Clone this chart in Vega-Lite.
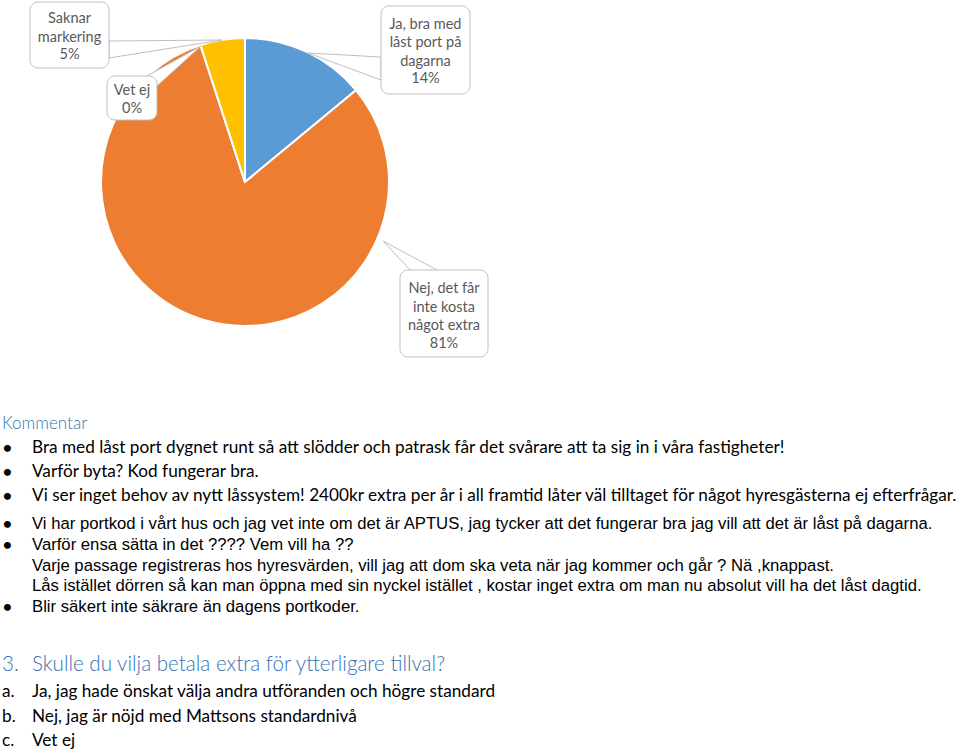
{
  "$schema": "https://vega.github.io/schema/vega-lite/v6.json",
  "width": 960,
  "height": 751,
  "autosize": {"type": "none"},
  "padding": 0,
  "background": "white",
  "config": {"view": {"stroke": null}},
  "datasets": {
    "svar": [
      {"nr": 1, "svar": "Ja, bra med låst port på dagarna", "andel": 0.14, "etikett": ["Ja, bra med", "låst port på", "dagarna"]},
      {"nr": 2, "svar": "Nej, det får inte kosta något extra", "andel": 0.81, "etikett": ["Nej, det får", "inte kosta", "något extra"]},
      {"nr": 3, "svar": "Vet ej", "andel": 0.0, "etikett": ["Vet ej"]},
      {"nr": 4, "svar": "Saknar markering", "andel": 0.05, "etikett": ["Saknar", "markering"]}
    ],
    "dokument": [
      {"rad": 0, "typ": "rubrik", "markor": "", "text": "Kommentar"},
      {"rad": 1, "typ": "c", "markor": "•", "text": "Bra med låst port dygnet runt så att slödder och patrask får det svårare att ta sig in i våra fastigheter!"},
      {"rad": 2, "typ": "c", "markor": "•", "text": "Varför byta? Kod fungerar bra."},
      {"rad": 3, "typ": "c", "markor": "•", "text": "Vi ser inget behov av nytt låssystem! 2400kr extra per år i all framtid låter väl tilltaget för något hyresgästerna ej efterfrågar."},
      {"rad": 4, "typ": "a", "markor": "•", "text": "Vi har portkod i vårt hus och jag vet inte om det är APTUS, jag tycker att det fungerar bra jag vill att det är låst på dagarna."},
      {"rad": 5, "typ": "a", "markor": "•", "text": "Varför ensa sätta in det ???? Vem vill ha ??"},
      {"rad": 6, "typ": "a", "markor": "", "text": "Varje passage registreras hos hyresvärden, vill jag att dom ska veta när jag kommer och går ? Nä ,knappast."},
      {"rad": 7, "typ": "a", "markor": "", "text": "Lås istället dörren så kan man öppna med sin nyckel istället , kostar inget extra om man nu absolut vill ha det låst dagtid."},
      {"rad": 8, "typ": "a", "markor": "•", "text": "Blir säkert inte säkrare än dagens portkoder."},
      {"rad": 9, "typ": "fraga", "markor": "3.", "text": "Skulle du vilja betala extra för ytterligare tillval?"},
      {"rad": 10, "typ": "alt", "markor": "a.", "text": "Ja, jag hade önskat välja andra utföranden och högre standard"},
      {"rad": 11, "typ": "alt", "markor": "b.", "text": "Nej, jag är nöjd med Mattsons standardnivå"},
      {"rad": 12, "typ": "alt", "markor": "c.", "text": "Vet ej"}
    ]
  },
  "resolve": {"scale": {"x": "independent", "y": "independent"}},
  "layer": [
    {
      "data": {"name": "svar"},
      "layer": [
        {
          "mark": {"type": "arc", "outerRadius": 144, "stroke": "white", "strokeWidth": 2},
          "encoding": {
            "theta": {"field": "andel", "type": "quantitative", "stack": true},
            "order": {"field": "nr", "type": "quantitative"},
            "color": {"field": "svar", "type": "nominal", "legend": null,
              "scale": {"domain": ["Ja, bra med låst port på dagarna", "Nej, det får inte kosta något extra", "Vet ej", "Saknar markering"],
                        "range": ["#5B9BD5", "#ED7D31", "#A5A5A5", "#FFC000"]}},
            "x": {"datum": 245, "type": "quantitative", "scale": {"domain": [0, 960], "nice": false, "zero": false}, "axis": null},
            "y": {"datum": 182, "type": "quantitative", "scale": {"domain": [0, 751], "nice": false, "zero": false, "reverse": true}, "axis": null}
          }
        },
        {
          "transform": [{"filter": "datum.nr == 1"}],
          "layer": [
            {"mark": {"type": "point", "shape": "M0,0L73,4L73,27Z", "size": 4, "filled": true, "fill": "white", "stroke": "#BFBFBF", "strokeWidth": 1, "opacity": 1},
             "encoding": {"x": {"datum": 308, "type": "quantitative"}, "y": {"datum": 53, "type": "quantitative"}}},
            {"mark": {"type": "rect", "fill": "white", "stroke": "#BFBFBF", "strokeWidth": 1, "cornerRadius": 8},
             "encoding": {"x": {"datum": 381, "type": "quantitative"}, "x2": {"datum": 470}, "y": {"datum": 6, "type": "quantitative"}, "y2": {"datum": 94}}},
            {"mark": {"type": "text", "align": "center", "baseline": "middle", "font": "Lato", "fontSize": 14.5, "lineHeight": 18.5, "color": "#595959"},
             "encoding": {"text": {"field": "etikett"}, "x": {"datum": 425.5, "type": "quantitative"}, "y": {"datum": 24.5, "type": "quantitative"}}},
            {"mark": {"type": "text", "align": "center", "baseline": "middle", "font": "Lato", "fontSize": 14.5, "color": "#595959"},
             "encoding": {"text": {"field": "andel", "type": "quantitative", "format": ".0%"}, "x": {"datum": 425.5, "type": "quantitative"}, "y": {"datum": 79, "type": "quantitative"}}}
          ]
        },
        {
          "transform": [{"filter": "datum.nr == 2"}],
          "layer": [
            {"mark": {"type": "point", "shape": "M0,0L29,31L54,29Z", "size": 4, "filled": true, "fill": "white", "stroke": "#BFBFBF", "strokeWidth": 1, "opacity": 1},
             "encoding": {"x": {"datum": 383, "type": "quantitative"}, "y": {"datum": 241, "type": "quantitative"}}},
            {"mark": {"type": "rect", "fill": "white", "stroke": "#BFBFBF", "strokeWidth": 1, "cornerRadius": 8},
             "encoding": {"x": {"datum": 400, "type": "quantitative"}, "x2": {"datum": 488}, "y": {"datum": 270, "type": "quantitative"}, "y2": {"datum": 357}}},
            {"mark": {"type": "text", "align": "center", "baseline": "middle", "font": "Lato", "fontSize": 14.5, "lineHeight": 18.5, "color": "#595959"},
             "encoding": {"text": {"field": "etikett"}, "x": {"datum": 444, "type": "quantitative"}, "y": {"datum": 289, "type": "quantitative"}}},
            {"mark": {"type": "text", "align": "center", "baseline": "middle", "font": "Lato", "fontSize": 14.5, "color": "#595959"},
             "encoding": {"text": {"field": "andel", "type": "quantitative", "format": ".0%"}, "x": {"datum": 444, "type": "quantitative"}, "y": {"datum": 344, "type": "quantitative"}}}
          ]
        },
        {
          "transform": [{"filter": "datum.nr == 3"}],
          "layer": [
            {"mark": {"type": "point", "shape": "M0,0L-54,30L-44,40Z", "size": 4, "filled": true, "fill": "white", "stroke": "#BFBFBF", "strokeWidth": 1, "opacity": 1},
             "encoding": {"x": {"datum": 201, "type": "quantitative"}, "y": {"datum": 46, "type": "quantitative"}}},
            {"mark": {"type": "rect", "fill": "white", "stroke": "#BFBFBF", "strokeWidth": 1, "cornerRadius": 8},
             "encoding": {"x": {"datum": 107, "type": "quantitative"}, "x2": {"datum": 157}, "y": {"datum": 76, "type": "quantitative"}, "y2": {"datum": 120}}},
            {"mark": {"type": "text", "align": "center", "baseline": "middle", "font": "Lato", "fontSize": 14.5, "lineHeight": 18.5, "color": "#595959"},
             "encoding": {"text": {"field": "etikett"}, "x": {"datum": 132, "type": "quantitative"}, "y": {"datum": 91, "type": "quantitative"}}},
            {"mark": {"type": "text", "align": "center", "baseline": "middle", "font": "Lato", "fontSize": 14.5, "color": "#595959"},
             "encoding": {"text": {"field": "andel", "type": "quantitative", "format": ".0%"}, "x": {"datum": 132, "type": "quantitative"}, "y": {"datum": 108.5, "type": "quantitative"}}}
          ]
        },
        {
          "transform": [{"filter": "datum.nr == 4"}],
          "layer": [
            {"mark": {"type": "point", "shape": "M0,0L-113,1L-113,18Z", "size": 4, "filled": true, "fill": "white", "stroke": "#BFBFBF", "strokeWidth": 1, "opacity": 1},
             "encoding": {"x": {"datum": 222, "type": "quantitative"}, "y": {"datum": 40, "type": "quantitative"}}},
            {"mark": {"type": "rect", "fill": "white", "stroke": "#BFBFBF", "strokeWidth": 1, "cornerRadius": 8},
             "encoding": {"x": {"datum": 30, "type": "quantitative"}, "x2": {"datum": 109}, "y": {"datum": 2, "type": "quantitative"}, "y2": {"datum": 68}}},
            {"mark": {"type": "text", "align": "center", "baseline": "middle", "font": "Lato", "fontSize": 14.5, "lineHeight": 18.5, "color": "#595959"},
             "encoding": {"text": {"field": "etikett"}, "x": {"datum": 69.5, "type": "quantitative"}, "y": {"datum": 19, "type": "quantitative"}}},
            {"mark": {"type": "text", "align": "center", "baseline": "middle", "font": "Lato", "fontSize": 14.5, "color": "#595959"},
             "encoding": {"text": {"field": "andel", "type": "quantitative", "format": ".0%"}, "x": {"datum": 69.5, "type": "quantitative"}, "y": {"datum": 55, "type": "quantitative"}}}
          ]
        }
      ]
    },
    {
      "data": {"name": "dokument"},
      "encoding": {
        "y": {"field": "rad", "type": "quantitative", "axis": null,
              "scale": {"domain": [0, 3, 4, 8, 9, 10, 12], "range": [424, 496, 524, 607, 665, 692, 741], "nice": false, "zero": false}}
      },
      "layer": [
        {"transform": [{"filter": "datum.typ == 'rubrik'"}],
         "mark": {"type": "text", "align": "left", "baseline": "middle", "font": "Lato", "fontWeight": 300, "fontSize": 17, "color": "#3572B3"},
         "encoding": {"text": {"field": "text"}, "x": {"datum": 2, "type": "quantitative", "scale": {"domain": [0, 960], "nice": false, "zero": false}, "axis": null}}},
        {"transform": [{"filter": "datum.markor == '•'"}],
         "mark": {"type": "text", "align": "center", "baseline": "middle", "font": "Lato", "fontWeight": "bold", "fontSize": 16, "color": "black"},
         "encoding": {"text": {"field": "markor"}, "x": {"datum": 7.5, "type": "quantitative"}}},
        {"transform": [{"filter": "datum.typ == 'c'"}],
         "mark": {"type": "text", "align": "left", "baseline": "middle", "font": "Lato", "fontSize": 17.2, "color": "black"},
         "encoding": {"text": {"field": "text"}, "x": {"datum": 32, "type": "quantitative"}}},
        {"transform": [{"filter": "datum.typ == 'a'"}],
         "mark": {"type": "text", "align": "left", "baseline": "middle", "font": "Liberation Sans", "fontSize": 16.7, "color": "black"},
         "encoding": {"text": {"field": "text"}, "x": {"datum": 32, "type": "quantitative"}}},
        {"transform": [{"filter": "datum.typ == 'fraga'"}],
         "mark": {"type": "text", "align": "left", "baseline": "middle", "font": "Lato", "fontWeight": 300, "fontSize": 20.6, "color": "#3572B3"},
         "encoding": {"text": {"field": "markor"}, "x": {"datum": 2, "type": "quantitative"}}},
        {"transform": [{"filter": "datum.typ == 'fraga'"}],
         "mark": {"type": "text", "align": "left", "baseline": "middle", "font": "Lato", "fontWeight": 300, "fontSize": 20.6, "color": "#3572B3"},
         "encoding": {"text": {"field": "text"}, "x": {"datum": 32, "type": "quantitative"}}},
        {"transform": [{"filter": "datum.typ == 'alt'"}],
         "mark": {"type": "text", "align": "left", "baseline": "middle", "font": "Lato", "fontSize": 17.2, "color": "black"},
         "encoding": {"text": {"field": "markor"}, "x": {"datum": 2, "type": "quantitative"}}},
        {"transform": [{"filter": "datum.typ == 'alt'"}],
         "mark": {"type": "text", "align": "left", "baseline": "middle", "font": "Lato", "fontSize": 17.2, "color": "black"},
         "encoding": {"text": {"field": "text"}, "x": {"datum": 32, "type": "quantitative"}}}
      ]
    }
  ]
}
